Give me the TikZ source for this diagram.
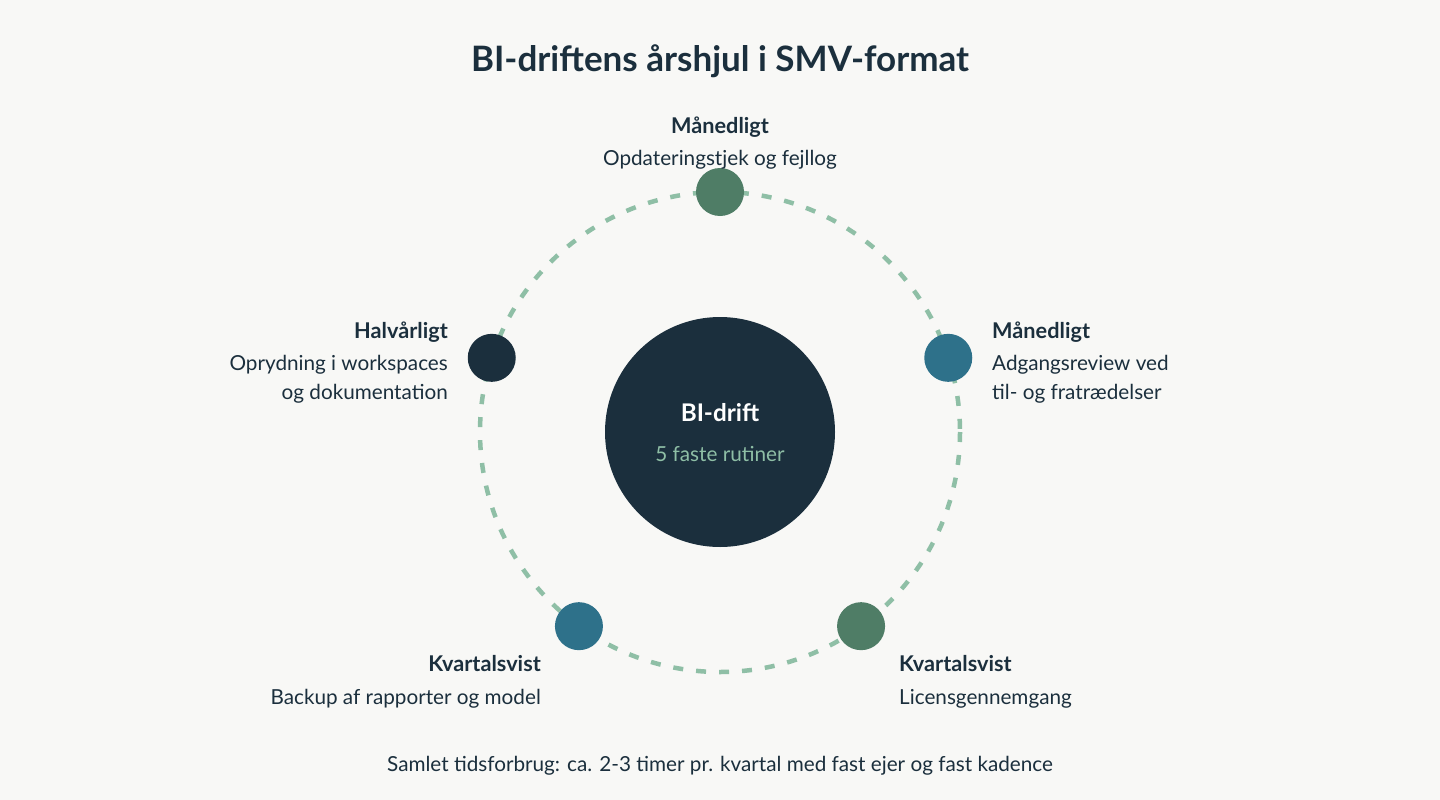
\documentclass[tikz,border=0pt]{standalone}
\usepackage{fontspec}
\setmainfont{Lato}
\usetikzlibrary{positioning}
\definecolor{ink}{HTML}{1B2F3D}
\definecolor{sage}{HTML}{4F7D66}
\definecolor{petrol}{HTML}{2E718A}
\definecolor{mint}{HTML}{8FBFA6}
\definecolor{paper}{HTML}{F8F8F6}
\tikzset{
    dot/.style={circle, minimum size=48pt, inner sep=0pt},
    heading/.style={font=\fontsize{21.7}{26}\selectfont\bfseries, text=ink, inner sep=0pt},
    desc/.style={font=\fontsize{20.7}{29}\selectfont, text=ink, inner sep=0pt},
    ring/.style={draw=mint, line width=4.5pt, dash pattern=on 10pt off 13pt},
}

\begin{document}
\begin{tikzpicture}[x=1pt, y=-1pt]
            \fill[paper] (0,0) rectangle (1440,800);
            \useasboundingbox (0,0) rectangle (1440,800);
            % --- title ---
            \node[font=\fontsize{35}{40}\selectfont\bfseries, text=ink, inner sep=0pt, anchor=base] (title) at (720,72) {BI-driftens årshjul i SMV-format};
            % --- hub and wheel ---
            \node[circle, fill=ink, minimum size=230pt, inner sep=0pt] (hub) at (720,432) {};
            \draw[ring] (hub.center) circle[radius=240];
            \node[font=\fontsize{24.3}{28}\selectfont\bfseries, text=white, inner sep=0pt, anchor=base] (hubtitle) at (720,421) {BI-drift};
            \node[desc, text=mint, anchor=base] (hubsub) at (720,461) {5 faste rutiner};
            % --- routines ---
            \node[dot, fill=sage] (d1) at ([shift={(-90:240)}]hub.center) {};
            \node[dot, fill=petrol] (d2) at ([shift={(-18:240)}]hub.center) {};
            \node[dot, fill=sage] (d3) at ([shift={(54:240)}]hub.center) {};
            \node[dot, fill=petrol] (d4) at ([shift={(126:240)}]hub.center) {};
            \node[dot, fill=ink] (d5) at ([shift={(198:240)}]hub.center) {};
            % --- labels ---
            \node[heading, anchor=base] (h1) at (720,133) {Månedligt};
            \node[desc, anchor=base] (t1) at (720,165) {Opdateringstjek og fejllog};
            \node[heading, anchor=base west] (h2) at (992,338) {Månedligt};
            \node[desc, anchor=base west, align=left] (t2) at (992,399) {Adgangsreview ved\\til- og fratrædelser};
            \node[heading, anchor=base west] (h3) at (899,671) {Kvartalsvist};
            \node[desc, anchor=base west] (t3) at (899,704) {Licensgennemgang};
            \node[heading, anchor=base east] (h4) at (541,671) {Kvartalsvist};
            \node[desc, anchor=base east] (t4) at (541,704) {Backup af rapporter og model};
            \node[heading, anchor=base east] (h5) at (448,338) {Halvårligt};
            \node[desc, anchor=base east, align=right] (t5) at (448,399) {Oprydning i workspaces\\og dokumentation};
            % --- footer ---
            \node[desc, anchor=base] (footer) at (720,771) {Samlet tidsforbrug: ca. 2-3 timer pr. kvartal med fast ejer og fast kadence};
\end{tikzpicture}
\end{document}
